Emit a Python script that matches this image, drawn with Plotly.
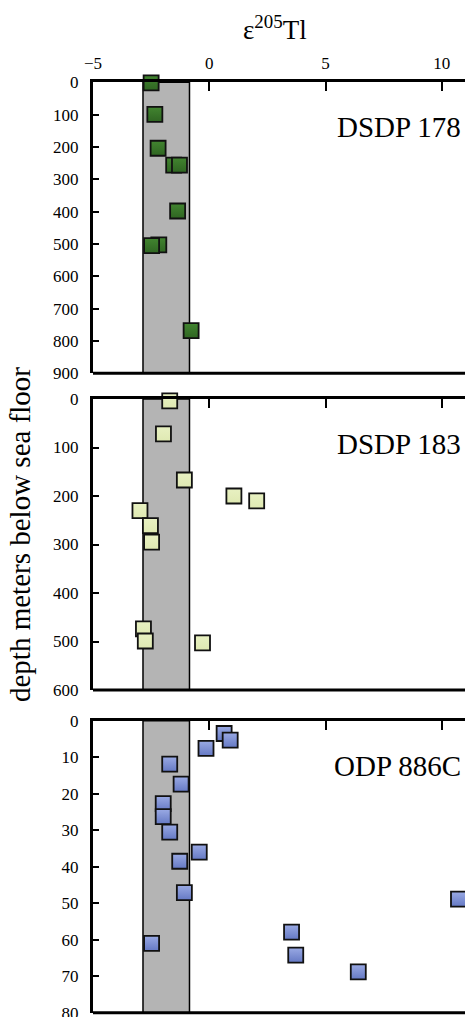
import plotly.graph_objects as go

# DSDP 178
x178 = [-2.50, -2.34, -2.20, -1.53, -1.28, -1.36, -2.17, -2.48, -0.78]
y178 = [2, 99, 204, 256, 256, 398, 503, 505, 768]
# DSDP 183
x183 = [-1.70, -1.97, -1.07, 1.06, 2.04, -2.98, -2.53, -2.48, -2.83, -2.75, -0.29]
y183 = [4, 72, 167, 200, 210, 230, 261, 295, 474, 499, 503]
# ODP 886C
x886 = [0.64, 0.90, -0.14, -1.70, -1.21, -1.98, -1.98, -1.70, -0.43, -1.27, -1.07, 10.72, 3.54, 3.72, 6.41, -2.48]
y886 = [3.5, 5.3, 7.6, 11.9, 17.4, 22.7, 26.3, 30.5, 36.0, 38.5, 47.1, 48.9, 57.9, 64.2, 68.8, 61.0]

band = [-2.85, -0.85]
xtick_vals = [-5, 0, 5, 10]
panels = [
    dict(name="DSDP 178", x=x178, y=y178, ymax=900, dtick=100, color="#428530", grad="#2f6522",
         dom=[1 - 373.3 / 1017, 1 - 82.3 / 1017]),
    dict(name="DSDP 183", x=x183, y=y183, ymax=600, dtick=100, color="#e8f1c2", grad="#dfe9b2",
         dom=[1 - 690 / 1017, 1 - 399 / 1017]),
    dict(name="ODP 886C", x=x886, y=y886, ymax=80, dtick=10, color="#9aaae4", grad="#6579c4",
         dom=[1 - 1012.7 / 1017, 1 - 720.7 / 1017]),
]

FONT = "Liberation Serif"
fig = go.Figure()
layout = dict(
    width=465, height=1017, margin=dict(l=0, r=0, t=0, b=0, pad=0, autoexpand=False),
    paper_bgcolor="white", plot_bgcolor="white", showlegend=False,
    font=dict(family=FONT, size=17, color="black"),
)
shapes = []
annotations = []
for i, p in enumerate(panels):
    n = "" if i == 0 else str(i + 1)
    xa, ya = "x" + n, "y" + n
    fig.add_trace(go.Scatter(
        x=p["x"], y=p["y"], mode="markers", xaxis=xa, yaxis=ya,
        marker=dict(symbol="square", size=15, color=p["color"],
                    gradient=dict(type="vertical", color=p["grad"]),
                    line=dict(color="#111111", width=1.8)),
        cliponaxis=False,
    ))
    layout["xaxis" + n] = dict(
        domain=[93 / 465, 1], range=[-5, 11], side="top", anchor=ya, automargin=False,
        tickvals=xtick_vals, ticks="inside", ticklen=9, tickwidth=1.5, tickcolor="black",
        showticklabels=(i == 0), tickfont=dict(family=FONT, size=17), ticklabelstandoff=4,
        ticklabeloverflow="allow",
        showline=True, linewidth=3, linecolor="black", showgrid=False, zeroline=False,
    )
    layout["yaxis" + n] = dict(
        domain=p["dom"], range=[p["ymax"], 0], anchor=xa, automargin=False,
        tick0=0, dtick=p["dtick"], ticks="inside", ticklen=6, tickwidth=1.5, tickcolor="black",
        tickfont=dict(family=FONT, size=17), ticklabelstandoff=8, ticklabeloverflow="allow",
        showline=True, linewidth=3, linecolor="black", showgrid=False, zeroline=False,
    )
    shapes.append(dict(type="rect", xref=xa, yref=ya + " domain", x0=band[0], x1=band[1], y0=0, y1=1,
                       fillcolor="#b4b4b4", line=dict(color="black", width=1.5), layer="below"))
    shapes.append(dict(type="line", xref=xa + " domain", yref=ya + " domain", x0=0, x1=1, y0=0, y1=0,
                       line=dict(color="black", width=3)))
    annotations.append(dict(text=p["name"], xref=xa + " domain", yref=ya + " domain",
                            x=0.995, y=0.845, xanchor="right", yanchor="middle", showarrow=False,
                            font=dict(family=FONT, size=29, color="black")))

annotations.append(dict(text="ε<sup>205</sup>Tl", xref="paper", yref="paper", x=275 / 465, y=1 - 28 / 1017,
                        xanchor="center", yanchor="middle", showarrow=False,
                        font=dict(family=FONT, size=27, color="black")))
annotations.append(dict(text="depth meters below sea floor", xref="paper", yref="paper",
                        x=20 / 465, y=1 - 535 / 1017, textangle=-90, xanchor="center", yanchor="middle",
                        showarrow=False, font=dict(family=FONT, size=29, color="black")))
layout["shapes"] = shapes
layout["annotations"] = annotations
fig.update_layout(**layout)
fig.write_html("out.html")
